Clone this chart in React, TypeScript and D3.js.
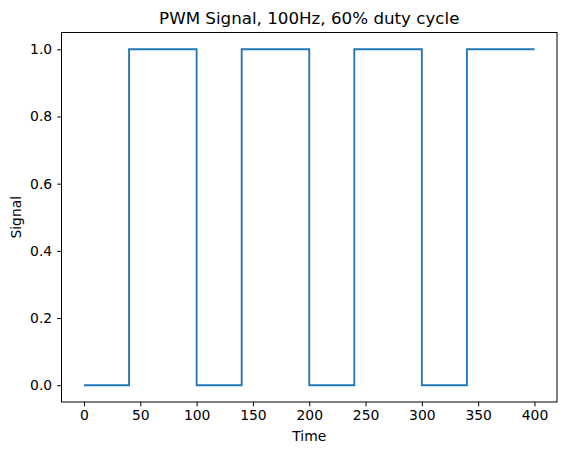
// App.tsx
// PWM signal chart, drawn with d3 through a ref
import React, { useEffect, useRef } from "react"
import * as d3 from "d3"

// transition times and the level that starts at each one
const times = [0, 40, 100, 140, 200, 240, 300, 340, 400]
const levels = [0, 1, 0, 1, 0, 1, 0, 1, 1]
const xTicks = [0, 50, 100, 150, 200, 250, 300, 350, 400]
const yTicks = [0.0, 0.2, 0.4, 0.6, 0.8, 1.0]

const W = 567
const H = 455
const margin = { left: 61.5, right: 10, top: 32.5, bottom: 53 }

const App: React.FC = () => {
    const ref = useRef<SVGSVGElement>(null)

    useEffect(() => {
        const svg = d3.select(ref.current)
        svg.selectAll("*").remove()
        const font = "DejaVu Sans, sans-serif"

        const x0 = margin.left
        const x1 = W - margin.right
        const y0 = H - margin.bottom
        const y1 = margin.top

        // matplotlib-style 5% padding
        const xPad = (400 - 0) * 0.05
        const x = d3.scaleLinear().domain([0 - xPad, 400 + xPad]).range([x0, x1])
        const y = d3.scaleLinear().domain([-0.05, 1.05]).range([y0, y1])

        const data = times.map((t, i) => ({ t, v: levels[i] }))
        const line = d3
            .line<{ t: number; v: number }>()
            .x((d) => x(d.t))
            .y((d) => y(d.v))
            .curve(d3.curveStepAfter)

        svg.append("path")
            .datum(data)
            .attr("d", line)
            .attr("fill", "none")
            .attr("stroke", "#1f77b4")
            .attr("stroke-width", 1.85)
            .attr("stroke-linejoin", "miter")

        // axes
        const xAxis = d3.axisBottom(x).tickValues(xTicks).tickSize(4.3).tickPadding(4).tickFormat(d3.format("d"))
        const gx = svg.append("g").attr("transform", `translate(0,${y0})`).call(xAxis)
        const yAxis = d3.axisLeft(y).tickValues(yTicks).tickSize(4.3).tickPadding(5).tickFormat(d3.format(".1f"))
        const gy = svg.append("g").attr("transform", `translate(${x0},0)`).call(yAxis)

        for (const g of [gx, gy]) {
            g.select(".domain").remove()
            g.selectAll("line").attr("stroke", "#000").attr("stroke-width", 1)
            g.selectAll("text").attr("font-family", font).attr("font-size", 13.9).attr("fill", "#000")
        }

        // frame
        svg.append("rect")
            .attr("x", x0)
            .attr("y", y1)
            .attr("width", x1 - x0)
            .attr("height", y0 - y1)
            .attr("fill", "none")
            .attr("stroke", "#000")
            .attr("stroke-width", 1)

        svg.append("text")
            .attr("x", (x0 + x1) / 2)
            .attr("y", 24)
            .attr("text-anchor", "middle")
            .attr("font-family", font)
            .attr("font-size", 16.7)
            .text("PWM Signal, 100Hz, 60% duty cycle")

        svg.append("text")
            .attr("x", (x0 + x1) / 2)
            .attr("y", 441)
            .attr("text-anchor", "middle")
            .attr("font-family", font)
            .attr("font-size", 13.9)
            .text("Time")

        svg.append("text")
            .attr("transform", `translate(21,${(y0 + y1) / 2}) rotate(-90)`)
            .attr("text-anchor", "middle")
            .attr("font-family", font)
            .attr("font-size", 13.9)
            .text("Signal")
    }, [])

    return <svg ref={ref} width={W} height={H} style={{ position: "absolute", left: 0, top: 0, background: "#fff" }} />
}

export default App
